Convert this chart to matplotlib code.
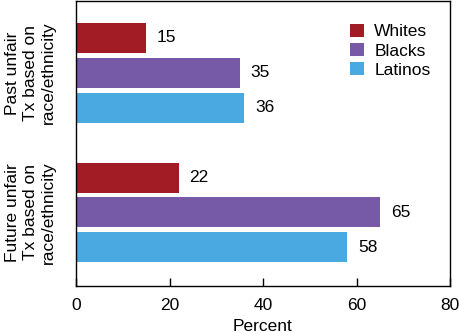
import matplotlib
matplotlib.use('Agg')
import matplotlib.pyplot as plt
import numpy as np

groups = ['Past unfair\nTx based on\nrace/ethnicity', 'Future unfair\nTx based on\nrace/ethnicity']
series = ['Whites', 'Blacks', 'Latinos']
whites = [15, 22]
blacks = [35, 65]
latinos = [36, 58]
colors = ['#A11C25', '#7659A7', '#49A9E0']

plt.rcParams['font.family'] = ['Liberation Sans', 'DejaVu Sans']
fs = 12.5

fig = plt.figure(figsize=(4.59, 3.33), dpi=100)
ax = fig.add_axes([76 / 459, 1 - 286 / 333, (450 - 76) / 459, 285 / 333])

group_pos = np.array([1, 5])
for i, (name, vals) in enumerate(zip(series, [whites, blacks, latinos])):
    ypos = group_pos - 1 + i
    ax.barh(ypos, vals, height=0.86, color=colors[i], label=name)
    for y, v in zip(ypos, vals):
        ax.text(v + 2.3, y, str(v), va='center', ha='left', fontsize=fs)

ax.set_xlim(0, 80)
ax.set_ylim(7.11, -1.06)
ax.set_xticks([0, 20, 40, 60, 80])
ax.tick_params(axis='x', direction='in', length=6, width=1, labelsize=fs, pad=9, top=False)
ax.set_yticks(group_pos)
ax.set_yticklabels(groups, rotation=90, va='center', ha='center', fontsize=fs,
                   linespacing=1.25)
ax.tick_params(axis='y', length=0, pad=33)
ax.set_xlabel('Percent', fontsize=fs, labelpad=4)
for sp in ax.spines.values():
    sp.set_linewidth(1)

ax.legend(loc='upper right', bbox_to_anchor=(0.99, 0.975), frameon=False, fontsize=fs,
          handlelength=0.8, handleheight=0.8, handletextpad=0.6, labelspacing=0.2,
          borderaxespad=0.5)

fig.savefig('out.png', dpi=100)
